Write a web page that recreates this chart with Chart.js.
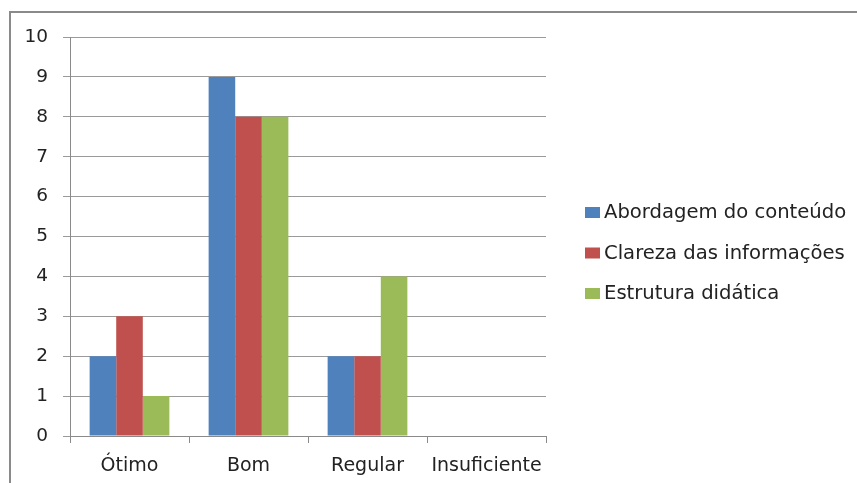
<!DOCTYPE html>
<html>
<head>
<meta charset="utf-8">
<script src="https://cdn.jsdelivr.net/npm/chart.js@4.4.1/dist/chart.umd.min.js"></script>
<style>
  html, body { margin: 0; padding: 0; background: #fff; overflow: hidden; }
  #wrap { position: relative; width: 857px; height: 483px; }
  #frame { position: absolute; left: 9px; top: 11px; width: 900px; height: 500px;
           border-left: 2px solid #8a8a8a; border-top: 2px solid #8a8a8a; }
  canvas { position: absolute; left: 0; top: 0; }
</style>
</head>
<body>
<div id="wrap">
  <div id="frame"></div>
  <canvas id="c" width="857" height="483"></canvas>
</div>
<script>
const categories = ['Ótimo', 'Bom', 'Regular', 'Insuficiente'];
const seriesNames = ['Abordagem do conteúdo', 'Clareza das informações', 'Estrutura didática'];
const abordagem = [2, 9, 2, 0];
const clareza = [3, 8, 2, 0];
const estrutura = [1, 8, 4, 0];
const yTicks = [0, 1, 2, 3, 4, 5, 6, 7, 8, 9, 10];
const colors = ['#4F81BD', '#C0504D', '#9BBB59'];

const FONT = 'DejaVu Sans';
const TEXT = '#222';

// Legend drawn to the right of the plot, one row per dataset
const sideLegend = {
  id: 'sideLegend',
  afterDraw(chart) {
    const ctx = chart.ctx;
    ctx.save();
    ctx.font = '19.6px "' + FONT + '"';
    ctx.textBaseline = 'middle';
    chart.data.datasets.forEach((ds, i) => {
      const y = 212 + i * 40.5;
      ctx.fillStyle = ds.backgroundColor;
      ctx.fillRect(585, y - 5, 15, 11);
      ctx.fillStyle = TEXT;
      ctx.fillText(ds.label, 604, y + 1);
    });
    ctx.restore();
  }
};

new Chart(document.getElementById('c'), {
  type: 'bar',
  data: {
    labels: categories,
    datasets: [
      { label: seriesNames[0], data: abordagem, backgroundColor: colors[0] },
      { label: seriesNames[1], data: clareza, backgroundColor: colors[1] },
      { label: seriesNames[2], data: estrutura, backgroundColor: colors[2] }
    ]
  },
  options: {
    responsive: false,
    animation: false,
    devicePixelRatio: 1,
    layout: { padding: { left: 0, top: 37, right: 311, bottom: 0 } },
    datasets: { bar: { barPercentage: 1, categoryPercentage: 0.67 } },
    plugins: { legend: { display: false }, tooltip: { enabled: false } },
    scales: {
      x: {
        afterFit(scale) { scale.height = 47; },
        grid: { offset: true, drawOnChartArea: false, drawTicks: true, tickLength: 7, color: '#8a8a8a' },
        border: { color: '#8a8a8a', width: 1 },
        ticks: { color: TEXT, font: { family: FONT, size: 19 }, padding: 12 }
      },
      y: {
        min: 0, max: 10,
        afterFit(scale) { scale.width = 70; },
        afterBuildTicks(scale) { scale.ticks = yTicks.map(v => ({ value: v })); },
        grid: { color: '#9a9a9a', tickLength: 7, lineWidth: 1 },
        border: { color: '#8a8a8a', width: 1 },
        ticks: { color: TEXT, font: { family: FONT, size: 18.5 }, padding: 15, stepSize: 1 }
      }
    }
  },
  plugins: [sideLegend]
});
</script>
</body>
</html>
